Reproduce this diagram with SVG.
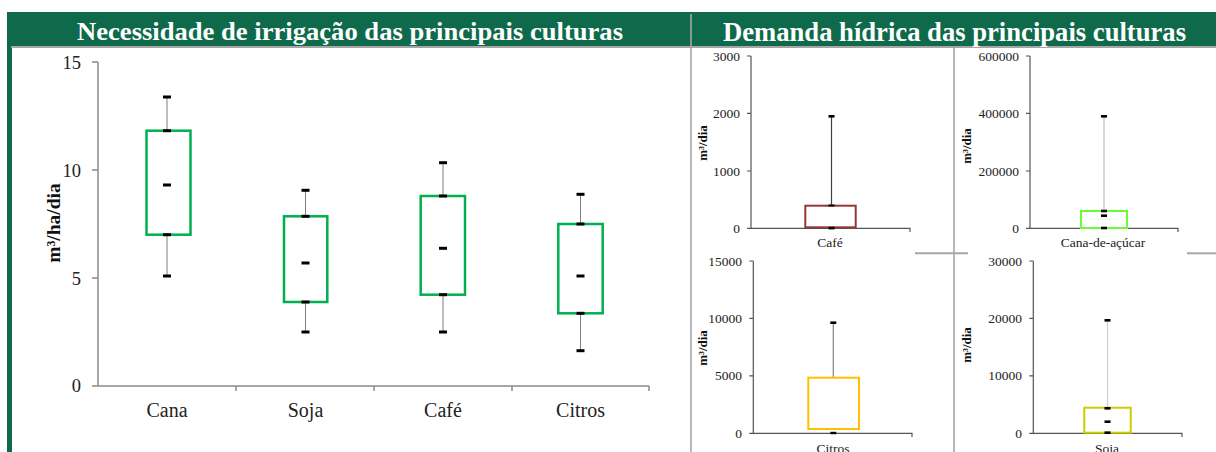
<svg xmlns="http://www.w3.org/2000/svg" width="1216" height="452" viewBox="0 0 1216 452">
<style>
.title{font-family:"Liberation Serif",serif;font-weight:bold;fill:#ffffff;text-anchor:middle}
.tick{font-family:"Liberation Serif",serif;fill:#222;text-anchor:end}
.lt{font-size:18.5px}
.st{font-size:13.5px}
.xl{font-family:"Liberation Serif",serif;fill:#222;text-anchor:middle}
.yl{font-family:"Liberation Serif",serif;font-weight:bold;fill:#111;text-anchor:middle}
.ax{stroke:#8a8a8a;stroke-width:1.5;fill:none}
.sax{stroke:#555;stroke-width:1.2;fill:none}
.div{stroke:#a6a6a6;stroke-width:2;fill:none}
.wh{stroke:#7f7f7f;stroke-width:1}
.cap{fill:#000}
.gbox{fill:#fff;stroke:#00b050;stroke-width:2.5}
</style>
<rect width="1216" height="452" fill="#ffffff"/>
<g id="frame">
<rect x="7" y="12" width="1209" height="34" fill="#0f6a4b"/>
<rect x="7" y="12" width="5" height="440" fill="#0f6a4b"/>
<line class="div" x1="11" y1="47" x2="1216" y2="47"/>
<line x1="691" y1="14" x2="691" y2="452" stroke="#a6a6a6" stroke-width="1.6"/>
<line x1="954" y1="48" x2="954" y2="452" stroke="#a6a6a6" stroke-width="1.6"/>
<line class="div" x1="915" y1="253.3" x2="968" y2="253.3"/>
<line class="div" x1="1187" y1="253.3" x2="1216" y2="253.3"/>
<text class="title" x="350" y="39.5" font-size="25" textLength="546" lengthAdjust="spacingAndGlyphs">Necessidade de irrigação das principais culturas</text>
<text class="title" x="954.5" y="40.5" font-size="26.5" textLength="463" lengthAdjust="spacingAndGlyphs">Demanda hídrica das principais culturas</text>
</g>
<g id="chart-irrigacao">
<g id="axes-left">
<line class="ax" x1="98" y1="62" x2="98" y2="386"/>
<line class="ax" x1="98" y1="386" x2="649" y2="386"/>
<path class="ax" d="M92 62H98M92 170H98M92 278H98M92 386H98M236 386V391M374 386V391M512 386V391M649 386V391"/>
<text class="tick lt" x="81" y="68.5">15</text>
<text class="tick lt" x="81" y="176.5">10</text>
<text class="tick lt" x="81" y="284.5">5</text>
<text class="tick lt" x="81" y="392">0</text>
<text class="yl" font-size="19.5" transform="translate(60,223) rotate(-90)">m³/ha/dia</text>
<text class="xl" font-size="20" x="167" y="417">Cana</text>
<text class="xl" font-size="20" x="305.5" y="417">Soja</text>
<text class="xl" font-size="20" x="443" y="417">Café</text>
<text class="xl" font-size="20" x="580.5" y="417">Citros</text>
</g>
<g id="box-cana">
<line class="wh" x1="167" y1="97" x2="167" y2="276"/>
<rect class="gbox" x="146.5" y="130.7" width="44" height="104"/>
<rect class="cap" x="163" y="95.5" width="8" height="3"/>
<rect class="cap" x="163" y="129.2" width="8" height="3"/>
<rect class="cap" x="163" y="183.5" width="8" height="3"/>
<rect class="cap" x="163" y="233.2" width="8" height="3"/>
<rect class="cap" x="163" y="274.5" width="8" height="3"/>
</g>
<g id="box-soja">
<line class="wh" x1="305.5" y1="190.3" x2="305.5" y2="332"/>
<rect class="gbox" x="284" y="216.3" width="43.3" height="85.7"/>
<rect class="cap" x="301.5" y="188.8" width="8" height="3"/>
<rect class="cap" x="301.5" y="214.8" width="8" height="3"/>
<rect class="cap" x="301.5" y="261.5" width="8" height="3"/>
<rect class="cap" x="301.5" y="300.5" width="8" height="3"/>
<rect class="cap" x="301.5" y="330.5" width="8" height="3"/>
</g>
<g id="box-cafe">
<line class="wh" x1="443" y1="162.7" x2="443" y2="332"/>
<rect class="gbox" x="420.7" y="196" width="44.3" height="98.7"/>
<rect class="cap" x="439" y="161.2" width="8" height="3"/>
<rect class="cap" x="439" y="194.5" width="8" height="3"/>
<rect class="cap" x="439" y="246.8" width="8" height="3"/>
<rect class="cap" x="439" y="293.2" width="8" height="3"/>
<rect class="cap" x="439" y="330.5" width="8" height="3"/>
</g>
<g id="box-citros">
<line class="wh" x1="580.5" y1="194.3" x2="580.5" y2="350.7"/>
<rect class="gbox" x="558.3" y="224" width="44.4" height="89.3"/>
<rect class="cap" x="576.5" y="192.8" width="8" height="3"/>
<rect class="cap" x="576.5" y="222.5" width="8" height="3"/>
<rect class="cap" x="576.5" y="274.5" width="8" height="3"/>
<rect class="cap" x="576.5" y="311.8" width="8" height="3"/>
<rect class="cap" x="576.5" y="349.2" width="8" height="3"/>
</g>
</g>
<g id="chart-demanda-cafe">
<path class="sax" d="M751 56V228.3H910V232M747 56H751M747 113.3H751M747 171H751M747 228.3H751"/>
<text class="tick st" x="740" y="60.5">3000</text>
<text class="tick st" x="740" y="117.8">2000</text>
<text class="tick st" x="740" y="175.5">1000</text>
<text class="tick st" x="740" y="232.8">0</text>
<text class="yl" font-size="13" transform="translate(707,143) rotate(-90)">m³/dia</text>
<text class="xl" font-size="13.5" x="830" y="247">Café</text>
<line x1="831.5" y1="116.3" x2="831.5" y2="205.7" stroke="#404040" stroke-width="1.2"/>
<rect x="805.3" y="205.7" width="50.4" height="21.6" fill="#fff" stroke="#953735" stroke-width="2"/>
<rect class="cap" x="828.5" y="115" width="6" height="2.6"/>
<rect class="cap" x="828.5" y="204.5" width="6" height="2"/>
<rect class="cap" x="828.5" y="226.8" width="6" height="2.6"/>
</g>
<g id="chart-demanda-cana">
<path class="sax" d="M1030 56V228.3H1178V232M1026 56H1030M1026 113.3H1030M1026 171H1030M1026 228.3H1030"/>
<text class="tick st" x="1019" y="60.5">600000</text>
<text class="tick st" x="1019" y="117.8">400000</text>
<text class="tick st" x="1019" y="175.5">200000</text>
<text class="tick st" x="1019" y="232.8">0</text>
<text class="yl" font-size="13" transform="translate(971,146) rotate(-90)">m³/dia</text>
<text class="xl" font-size="13.5" x="1103" y="247">Cana-de-açúcar</text>
<line x1="1104" y1="116.3" x2="1104" y2="211" stroke="#bfbfbf" stroke-width="1.2"/>
<rect x="1081" y="211" width="46" height="17" fill="#fff" stroke="#66ff33" stroke-width="2"/>
<rect class="cap" x="1101" y="115" width="6" height="2.6"/>
<rect class="cap" x="1101" y="209.7" width="6" height="2.6"/>
<rect class="cap" x="1101" y="214.4" width="6" height="2.6"/>
<rect class="cap" x="1101" y="226.7" width="6" height="2.6"/>
</g>
<g id="chart-demanda-citros">
<path class="sax" d="M753.3 261V433.3H912V437M749.3 261H753.3M749.3 318.4H753.3M749.3 375.9H753.3M749.3 433.3H753.3"/>
<text class="tick st" x="742" y="265.5">15000</text>
<text class="tick st" x="742" y="322.9">10000</text>
<text class="tick st" x="742" y="380.4">5000</text>
<text class="tick st" x="742" y="437.8">0</text>
<text class="yl" font-size="13" transform="translate(707,348) rotate(-90)">m³/dia</text>
<text class="xl" font-size="13.5" x="833" y="453">Citros</text>
<line x1="833.3" y1="322.7" x2="833.3" y2="377.7" stroke="#808080" stroke-width="1.2"/>
<rect x="808.3" y="377.7" width="50.7" height="51.3" fill="#fff" stroke="#ffc000" stroke-width="2"/>
<rect class="cap" x="830.3" y="321.4" width="6" height="2.6"/>
<rect class="cap" x="830.3" y="431.8" width="6" height="2.4"/>
</g>
<g id="chart-demanda-soja">
<path class="sax" d="M1033.3 261V433.3H1182V437M1029.3 261H1033.3M1029.3 318.4H1033.3M1029.3 375.9H1033.3M1029.3 433.3H1033.3"/>
<text class="tick st" x="1022" y="265.5">30000</text>
<text class="tick st" x="1022" y="322.9">20000</text>
<text class="tick st" x="1022" y="380.4">10000</text>
<text class="tick st" x="1022" y="437.8">0</text>
<text class="yl" font-size="13" transform="translate(971,345) rotate(-90)">m³/dia</text>
<text class="xl" font-size="13.5" x="1107" y="453">Soja</text>
<line x1="1107.5" y1="320.3" x2="1107.5" y2="407.7" stroke="#d0d0d0" stroke-width="1.2"/>
<rect x="1084.3" y="407.7" width="46.4" height="25" fill="#fff" stroke="#cccc00" stroke-width="2"/>
<rect class="cap" x="1104.5" y="319" width="6" height="2.6"/>
<rect class="cap" x="1104.5" y="407" width="6" height="2.6"/>
<rect class="cap" x="1104.5" y="420.4" width="6" height="2.6"/>
<rect class="cap" x="1104.5" y="431.4" width="6" height="2.6"/>
</g>
</svg>
